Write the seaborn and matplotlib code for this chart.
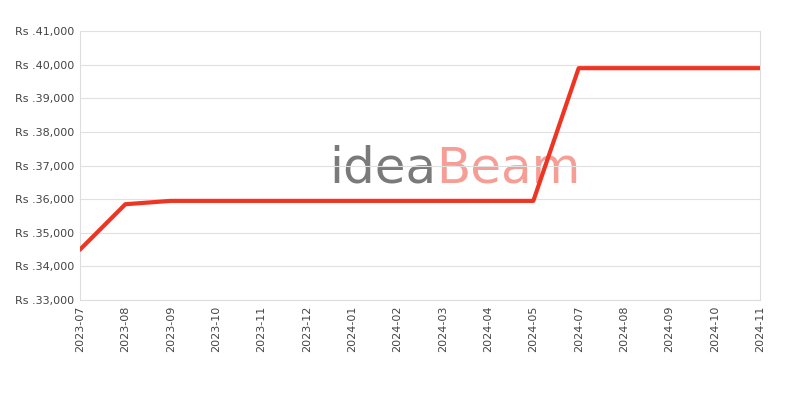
import seaborn as sns
import matplotlib.pyplot as plt
import matplotlib.ticker as mticker
import pandas as pd

# monthly price points (2024-06 missing in source)
months = ["2023-07", "2023-08", "2023-09", "2023-10", "2023-11", "2023-12",
          "2024-01", "2024-02", "2024-03", "2024-04", "2024-05", "2024-07",
          "2024-08", "2024-09", "2024-10", "2024-11"]
prices = [34500, 35850, 35950, 35950, 35950, 35950,
          35950, 35950, 35950, 35950, 35950, 39900,
          39900, 39900, 39900, 39900]

df = pd.DataFrame({"month": months, "price": prices})
df["pos"] = range(len(df))

sns.set_style("white")
plt.rcParams["font.family"] = ["DejaVu Sans"]

fig, ax = plt.subplots(figsize=(8, 4), dpi=100)
fig.subplots_adjust(left=0.1, right=0.95, top=0.922, bottom=0.25)

# watermark
ax.text(0.5235, 0.49, "idea", transform=ax.transAxes, fontsize=36, color="#7a7a7a",
        ha="right", va="center", zorder=0)
ax.text(0.5235, 0.49, "Beam", transform=ax.transAxes, fontsize=36, color="#f5928b",
        ha="left", va="center", alpha=0.9, zorder=0)

sns.lineplot(data=df, x="pos", y="price", color="#ee3524", linewidth=3, ax=ax, zorder=3)

ax.set_xlim(0, len(months) - 1)
ax.set_ylim(33000, 41000)
ax.set_xticks(range(len(months)))
ax.set_xticklabels(months, rotation=90)
ax.yaxis.set_major_locator(mticker.MultipleLocator(1000))
ax.yaxis.set_major_formatter(mticker.FuncFormatter(lambda v, p: f"Rs .{int(v):,}"))
ax.set_xlabel("")
ax.set_ylabel("")
ax.grid(axis="y", color="#e0e0e0", linewidth=0.8)
ax.tick_params(axis="both", labelsize=8, colors="#444444", length=0, pad=4)
for side in ["left", "bottom", "right"]:
    ax.spines[side].set_color("#dddddd")
ax.spines["top"].set_visible(False)

fig.savefig("out.png")
